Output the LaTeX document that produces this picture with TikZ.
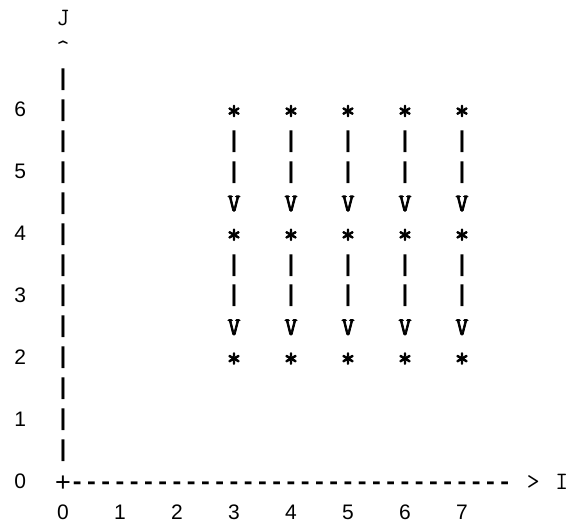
\documentclass[tikz,border=0pt]{standalone}
\usepackage{fontspec}
\newfontfamily\barfont{Liberation Sans}
\newfontfamily\dashfont{Liberation Mono}
\newfontfamily\digitfont{Liberation Sans}
\newfontfamily\heavytt[FakeBold=3]{Latin Modern Mono}

\tikzset{
  glyph/.style={inner sep=0pt, outer sep=0pt, anchor=base,
    font=\ttfamily\fontsize{25}{30}\selectfont},
  heavy/.style={glyph, font=\heavytt\fontsize{25}{30}\selectfont},
  starglyph/.style={heavy, yshift=-1pt, font=\heavytt\fontsize{27}{30}\selectfont},
  plusglyph/.style={glyph, yshift=-1.5pt, font=\barfont\fontsize{27}{30}\selectfont},
  barglyph/.style={glyph, yshift=2pt, font=\barfont\bfseries\fontsize{23}{28}\selectfont},
  dashglyph/.style={glyph, font=\dashfont\bfseries\fontsize{23.75}{28}\selectfont},
  num/.style={glyph, yshift=1.5pt, font=\digitfont\fontsize{21}{25}\selectfont},
}

% character cell grid: column c is centred at x = 20.25 + 14.25c,
% row r has its baseline at y = 25.5 + 30.94r (y grows downwards)
\newcommand\putglyph[5]{%
  \node[#1] (#2) at ({20.25+14.25*(#3)},{25.5+30.94*(#4)}) {#5};}

\begin{document}
\begin{tikzpicture}[x=1pt,y=-1pt]
\useasboundingbox (0,0) rectangle (571,523);

% vertical axis with its label
\putglyph{glyph}{jlabel}{3}{0}{J}
\putglyph{glyph}{jtip}{3}{1}{\textasciicircum}
\foreach \r in {2,...,14} {\putglyph{barglyph}{yaxis-\r}{3}{\r}{|}}

% horizontal axis with its label
\putglyph{plusglyph}{origin}{3}{15}{+}
\foreach \c in {4,...,34} {\putglyph{dashglyph}{xaxis-\c}{\c}{15}{-}}
\putglyph{glyph}{itip}{36}{15}{>}
\putglyph{glyph}{ilabel}{38}{15}{I}

% tick numbers
\foreach \v in {0,...,6} {
  \pgfmathtruncatemacro\r{15-2*\v}
  \putglyph{num}{jnum-\v}{0}{\r}{\v}}
\foreach \v in {0,...,7} {
  \pgfmathtruncatemacro\c{3+4*\v}
  \putglyph{num}{inum-\v}{\c}{16}{\v}}

% grid points joined by downward arrows
\foreach \k in {0,...,4} {
  \pgfmathtruncatemacro\c{15+4*\k}
  \foreach \r in {3,7,11} {\putglyph{starglyph}{star-\k-\r}{\c}{\r}{*}}
  \foreach \r in {4,5,8,9} {\putglyph{barglyph}{bar-\k-\r}{\c}{\r}{|}}
  \foreach \r in {6,10} {\putglyph{heavy}{vee-\k-\r}{\c}{\r}{V}}
}
\end{tikzpicture}
\end{document}
